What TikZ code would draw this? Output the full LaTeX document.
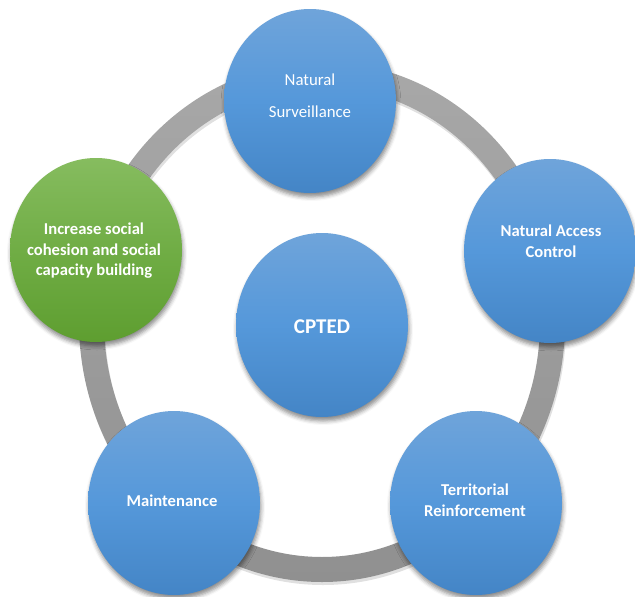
\documentclass[tikz,border=0pt]{standalone}
\usepackage{fontspec}
\setmainfont{Carlito}
\usetikzlibrary{shapes.geometric,shadows.blur}
\definecolor{bluetop}{HTML}{6FA4DA}
\definecolor{bluemid}{HTML}{5598DA}
\definecolor{bluebot}{HTML}{4485C6}
\definecolor{greentop}{HTML}{86BC5F}
\definecolor{greenmid}{HTML}{70AD45}
\definecolor{greenbot}{HTML}{5E9E30}
\definecolor{ringtop}{HTML}{A8A8A8}
\definecolor{ringbot}{HTML}{909090}
\begin{document}
\begin{tikzpicture}[x=1pt,y=-1pt,
  bubble/.style={ellipse, minimum width=172pt, minimum height=184pt, inner sep=0pt,
    top color=bluetop, bottom color=bluebot, middle color=bluemid,
    blur shadow={shadow xshift=1pt, shadow yshift=-4pt, shadow blur radius=4pt, shadow opacity=45}},
  greenbubble/.style={bubble, top color=greentop, bottom color=greenbot, middle color=greenmid},
  lab/.style={text=white, align=center, inner sep=0pt, font=\bfseries\fontsize{16.6}{20.5}\selectfont}]
\useasboundingbox (0,0) rectangle (635,597);
% ring shadow
\fill[black, opacity=0.12, even odd rule] (323,325) ellipse [x radius=243, y radius=260]
  (323,325) ellipse [x radius=218, y radius=235];
% ring
\shade[top color=ringtop, bottom color=ringbot, even odd rule] (322,322) ellipse [x radius=243, y radius=260]
  (322,322) ellipse [x radius=218, y radius=235];
% bubbles
\node[bubble] (ns) at (310,101) {};
\node[bubble] (nac) at (550,251) {};
\node[bubble] (ter) at (476,503) {};
\node[bubble] (mai) at (174,503) {};
\node[greenbubble] (inc) at (96,250) {};
\node[bubble] (cp) at (322,325) {};
% labels
\node[lab, font=\fontsize{16.8}{32}\selectfont] (nst) at (310,96) {Natural\\Surveillance};
\node[lab] (nact) at (551,241) {Natural Access\\Control};
\node[lab] (inct) at (94,251) {Increase social\\cohesion and social\\capacity building};
\node[lab] (tert) at (475,500) {Territorial\\Reinforcement};
\node[lab] (mait) at (172,501) {Maintenance};
\node[lab, font=\bfseries\fontsize{21}{25}\selectfont] (cpt) at (322,327) {CPTED};
\end{tikzpicture}
\end{document}
